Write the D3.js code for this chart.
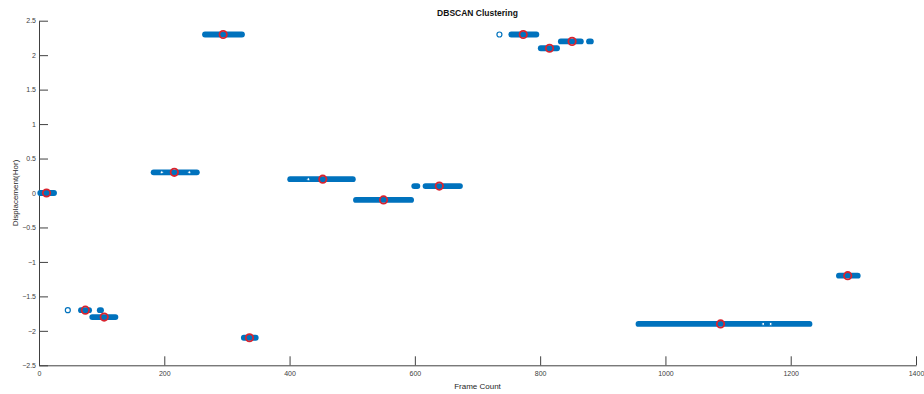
<!DOCTYPE html>
<html>
<head>
<meta charset="utf-8">
<script src="https://cdn.jsdelivr.net/npm/d3@7/dist/d3.min.js"></script>
<style>
  body { margin: 0; background: #fff; }
  svg { display: block; font-family: "Liberation Sans", Arial, sans-serif; }
  .tick text { fill: #404040; font-size: 7px; }
  .domain, .tick line { stroke: #404040; }
</style>
</head>
<body>
<div id="wrapper"></div>
<script>
// clustered runs of frames (start frame, end frame, displacement)
const runStart = [2, 67, 97, 85, 183, 265, 327, 401, 506, 599, 617, 754, 801, 833, 878, 957, 1277]
const runEnd   = [24, 80, 99, 122, 252, 324, 346, 501, 594, 604, 672, 794, 827, 865, 881, 1230, 1307]
const runY     = [0, -1.7, -1.7, -1.8, 0.3, 2.3, -2.1, 0.2, -0.1, 0.1, 0.1, 2.3, 2.1, 2.2, 2.2, -1.9, -1.2]

// isolated (noise) points
const noiseX = [46, 735]
const noiseY = [-1.7, 2.3]

// missing frames inside runs (hollow centres show through)
const gapX = [430, 1156, 1168, 196, 240]
const gapY = [0.2, -1.9, -1.9, 0.3, 0.3]

// cluster centroids
const centX = [12, 74, 104, 216, 294, 336, 453, 550, 639, 773, 815, 851, 1088, 1291]
const centY = [0, -1.7, -1.8, 0.3, 2.3, -2.1, 0.2, -0.1, 0.1, 2.3, 2.1, 2.2, -1.9, -1.2]

const xTicks = [0, 200, 400, 600, 800, 1000, 1200, 1400]
const yTicks = [-2.5, -2, -1.5, -1, -0.5, 0, 0.5, 1, 1.5, 2, 2.5]

const width = 924
const height = 394
const margin = { top: 20.7, right: 8, bottom: 28.7, left: 39 }
const boundedWidth = width - margin.left - margin.right
const boundedHeight = height - margin.top - margin.bottom

const blue = "#0072BD"
const red = "#D9232E"

const svg = d3.select("#wrapper")
    .append("svg")
    .attr("width", width)
    .attr("height", height)

const bounds = svg.append("g")
    .attr("transform", `translate(${margin.left},${margin.top})`)

const xScale = d3.scaleLinear()
    .domain([0, 1400])
    .range([0, boundedWidth])

const yScale = d3.scaleLinear()
    .domain([-2.5, 2.5])
    .range([boundedHeight, 0])

// axes, MATLAB style: ticks pointing inward
const xAxis = bounds.append("g")
    .attr("transform", `translate(0,${boundedHeight})`)
    .call(d3.axisBottom(xScale)
        .tickValues(xTicks)
        .tickSizeInner(-9)
        .tickSizeOuter(0)
        .tickPadding(6)
        .tickFormat(d3.format("d")))
xAxis.selectAll(".tick text").attr("dy", "0.71em").attr("y", 6)

const yAxis = bounds.append("g")
    .call(d3.axisLeft(yScale)
        .tickValues(yTicks)
        .tickSizeInner(-9)
        .tickSizeOuter(0)
        .tickPadding(3)
        .tickFormat(d => d3.format("")(d)))
yAxis.selectAll(".tick text").attr("x", -3)

// runs of dense markers
bounds.append("g")
    .selectAll("line")
    .data(runStart.map((s, i) => ({ s, e: runEnd[i], y: runY[i] })))
    .enter().append("line")
    .attr("x1", d => xScale(d.s))
    .attr("x2", d => xScale(d.e))
    .attr("y1", d => yScale(d.y))
    .attr("y2", d => yScale(d.y))
    .attr("stroke", blue)
    .attr("stroke-width", 5.8)
    .attr("stroke-linecap", "round")

// gaps
bounds.append("g")
    .selectAll("circle")
    .data(gapX.map((x, i) => ({ x, y: gapY[i] })))
    .enter().append("circle")
    .attr("cx", d => xScale(d.x))
    .attr("cy", d => yScale(d.y))
    .attr("r", 1.5)
    .attr("fill", "#fff")
    .attr("stroke", blue)
    .attr("stroke-width", 1)

// noise points
bounds.append("g")
    .selectAll("circle")
    .data(noiseX.map((x, i) => ({ x, y: noiseY[i] })))
    .enter().append("circle")
    .attr("cx", d => xScale(d.x))
    .attr("cy", d => yScale(d.y))
    .attr("r", 2.5)
    .attr("fill", "none")
    .attr("stroke", blue)
    .attr("stroke-width", 1.2)

// centroids
bounds.append("g")
    .selectAll("circle")
    .data(centX.map((x, i) => ({ x, y: centY[i] })))
    .enter().append("circle")
    .attr("cx", d => xScale(d.x))
    .attr("cy", d => yScale(d.y))
    .attr("r", 3.7)
    .attr("fill", "none")
    .attr("stroke", red)
    .attr("stroke-width", 1.8)

// labels
svg.append("text")
    .attr("x", margin.left + boundedWidth / 2)
    .attr("y", 15.5)
    .attr("text-anchor", "middle")
    .style("font-size", "8.5px")
    .style("font-weight", "bold")
    .attr("fill", "#111")
    .text("DBSCAN Clustering")

svg.append("text")
    .attr("x", margin.left + boundedWidth / 2)
    .attr("y", 389)
    .attr("text-anchor", "middle")
    .style("font-size", "8px")
    .attr("fill", "#262626")
    .text("Frame Count")

svg.append("text")
    .attr("transform", `translate(18,${margin.top + boundedHeight / 2}) rotate(-90)`)
    .attr("text-anchor", "middle")
    .style("font-size", "8px")
    .attr("fill", "#262626")
    .text("Displacement(Hor)")
</script>
</body>
</html>
